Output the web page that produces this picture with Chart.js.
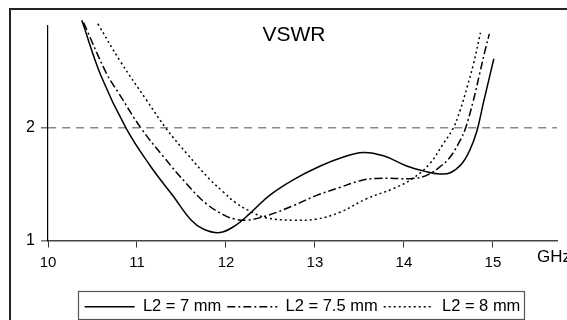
<!DOCTYPE html>
<html><head><meta charset="utf-8">
<script src="https://cdn.jsdelivr.net/npm/chart.js@4.4.0/dist/chart.umd.min.js"></script>
<style>
html,body{margin:0;padding:0;background:#fff;overflow:hidden;width:567px;height:320px}
#wrap{position:absolute;left:0;top:0;width:596px;height:330px}
</style>
</head><body><div id="wrap"><canvas id="c" width="596" height="330"></canvas></div>
<script>
// ---- data ----
const chartTitle = 'VSWR';
const xUnit = 'GHz';
const xTicks = [10, 11, 12, 13, 14, 15];
const yTicks = [1, 2];
const refLevel = 2;
const seriesLabels = ['L2 = 7 mm', 'L2 = 7.5 mm', 'L2 = 8 mm'];

const freq7 = [10.38,10.60,10.88,11.15,11.41,11.61,11.75,11.93,12.10,12.27,12.49,12.76,13.06,13.32,13.54,13.77,14.03,14.25,14.40,14.52,14.65,14.74,14.82,14.89,15.01];
const vswr7 = [2.95,2.45,1.99,1.66,1.39,1.18,1.10,1.07,1.13,1.24,1.40,1.54,1.66,1.74,1.78,1.75,1.66,1.61,1.59,1.60,1.68,1.80,1.97,2.21,2.61];

const freq75 = [10.40,10.66,10.79,11.05,11.30,11.56,11.78,11.99,12.10,12.23,12.46,12.76,13.02,13.28,13.51,13.69,14.10,14.25,14.40,14.52,14.63,14.69,14.78,14.85,14.92,14.96];
const vswr75 = [2.93,2.475,2.31,1.99,1.74,1.50,1.325,1.22,1.19,1.18,1.22,1.31,1.40,1.47,1.53,1.55,1.55,1.575,1.65,1.74,1.885,1.99,2.24,2.475,2.71,2.83];

const freq8 = [10.56,10.81,11.11,11.33,11.56,11.82,11.97,12.10,12.27,12.46,12.76,13.02,13.28,13.58,13.88,14.10,14.29,14.44,14.55,14.63,14.71,14.78,14.86];
const vswr8 = [2.92,2.59,2.24,1.99,1.77,1.54,1.43,1.34,1.26,1.20,1.18,1.19,1.25,1.37,1.46,1.55,1.68,1.855,1.99,2.15,2.36,2.56,2.84];

// ---- build ----
const pts = (xs, ys) => xs.map((x, i) => ({x: x, y: ys[i]}));
const SANS = '"Liberation Sans", Arial, Helvetica, sans-serif';

const lineBase = {borderColor: '#000', pointRadius: 0, borderWidth: 1.5, fill: false,
  tension: 0.4, clip: false};

const decor = {
  id: 'decor',
  beforeDraw(chart) {
    const ctx = chart.ctx;
    ctx.save();
    ctx.fillStyle = '#fff';
    ctx.fillRect(0, 0, chart.width, chart.height);
    ctx.strokeStyle = '#222';
    ctx.lineWidth = 2;
    ctx.strokeRect(10, 9, chart.width - 20, chart.height);
    ctx.restore();
  },
  afterDraw(chart) {
    const ctx = chart.ctx, xs = chart.scales.x;
    ctx.save();
    ctx.fillStyle = '#000';
    ctx.font = '21px ' + SANS;
    ctx.textAlign = 'center';
    ctx.textBaseline = 'middle';
    ctx.fillText(chartTitle, chart.width / 2 - 4, 35);
    ctx.font = '17px ' + SANS;
    ctx.textAlign = 'left';
    ctx.fillText(xUnit, xs.right - 20, 257);
    const hb = chart.legend.legendHitBoxes;
    if (hb && hb.length) {
      const l = hb[0].left - 7;
      const r = hb[hb.length - 1].left + hb[hb.length - 1].width + 3;
      const t = hb[0].top - 8;
      ctx.strokeStyle = '#555';
      ctx.lineWidth = 1.2;
      ctx.strokeRect(Math.round(l) + 0.5, Math.round(t) + 0.5, Math.round(r - l), 319 - Math.round(t));
    }
    ctx.restore();
  }
};

new Chart(document.getElementById('c'), {
  type: 'scatter',
  data: {
    datasets: [
      Object.assign({label: seriesLabels[0], data: pts(freq7, vswr7), showLine: true, borderDash: []}, lineBase),
      Object.assign({label: seriesLabels[1], data: pts(freq75, vswr75), showLine: true, borderDash: [8, 3, 2, 3]}, lineBase),
      Object.assign({label: seriesLabels[2], data: pts(freq8, vswr8), showLine: true, borderDash: [2, 3]}, lineBase)
    ]
  },
  options: {
    responsive: false,
    animation: false,
    devicePixelRatio: 1,
    layout: {padding: {left: 0, top: 26, right: 39, bottom: 5}},
    plugins: {
      title: {display: false},
      tooltip: {enabled: false},
      legend: {
        display: true,
        position: 'bottom',
        fullSize: false,
        labels: {
          usePointStyle: true, pointStyle: 'line', pointStyleWidth: 50,
          color: '#000', padding: 6,
          font: {family: SANS, size: 16.5},
          generateLabels(chart) {
            const items = Chart.defaults.plugins.legend.labels.generateLabels(chart);
            items.forEach((it, i) => {
              it.lineDash = chart.data.datasets[i].borderDash;
              it.lineWidth = 1.3;
              it.strokeStyle = '#000';
            });
            return items;
          }
        }
      }
    },
    scales: {
      x: {
        type: 'linear', min: 10, max: 15.72,
        afterBuildTicks: s => { s.ticks = xTicks.map(v => ({value: v})); },
        afterFit: s => { s.height = 52; },
        grid: {drawOnChartArea: false, drawTicks: true, tickLength: 7, tickColor: '#333', tickWidth: 1},
        border: {display: true, color: '#444', width: 1.5},
        ticks: {color: '#000', padding: 6, maxRotation: 0, font: {family: SANS, size: 15}}
      },
      y: {
        type: 'linear', min: 1, max: 2.9,
        afterBuildTicks: s => { s.ticks = yTicks.map(v => ({value: v})); },
        afterFit: s => { s.width = 48; },
        grid: {
          drawOnChartArea: true, drawTicks: true, tickLength: 7,
          color: c => (c.tick && c.tick.value === refLevel) ? '#888' : 'rgba(0,0,0,0)',
          lineWidth: 1.5, tickColor: '#777', tickWidth: 1.5
        },
        border: {display: true, color: '#000', width: 1.2, dash: [8, 6]},
        ticks: {color: '#000', padding: 6, font: {family: SANS, size: 16}}
      }
    }
  },
  plugins: [decor]
});
</script>
</body></html>
